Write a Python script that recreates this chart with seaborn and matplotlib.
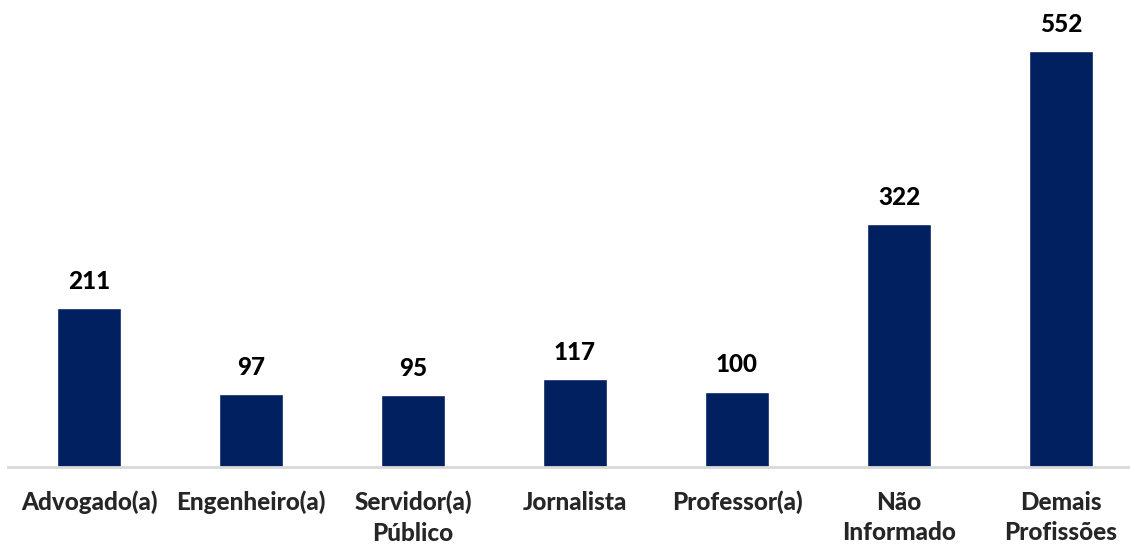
import seaborn as sns
import matplotlib.pyplot as plt
import pandas as pd

categorias = ['Advogado(a)', 'Engenheiro(a)', 'Servidor(a)\nPúblico', 'Jornalista',
              'Professor(a)', 'Não\nInformado', 'Demais\nProfissões']
valores = [211, 97, 95, 117, 100, 322, 552]

df = pd.DataFrame({'categoria': categorias, 'valor': valores})

sns.set_style('white')
plt.rcParams['font.family'] = ['Lato', 'DejaVu Sans']

fig = plt.figure(figsize=(11.3, 5.46), dpi=100)
# axes runs a little past the right edge, as in the original
ax = fig.add_axes([8 / 1130, 79 / 546, 1134 / 1130, 452 / 546])

sns.barplot(data=df, x='categoria', y='valor', color='#002060', width=0.4,
            saturation=1, ax=ax)

ax.set_ylim(0, 600)
ax.set_xlim(-0.5, len(categorias) - 0.5)
ax.bar_label(ax.containers[0], fmt='%d', padding=11, fontsize=17.5,
             fontweight='black', color='black')

ax.set_xlabel('')
ax.set_ylabel('')
ax.set_yticks([])
ax.tick_params(axis='x', length=0, pad=17, labelsize=17.5)
for lbl in ax.get_xticklabels():
    lbl.set_fontweight('black')
    lbl.set_linespacing(1.4)
    lbl.set_verticalalignment('top')

for s in ['top', 'right', 'left']:
    ax.spines[s].set_visible(False)
ax.spines['bottom'].set_color('#d9d9d9')
ax.spines['bottom'].set_linewidth(2)

fig.savefig('out.png', dpi=100)
